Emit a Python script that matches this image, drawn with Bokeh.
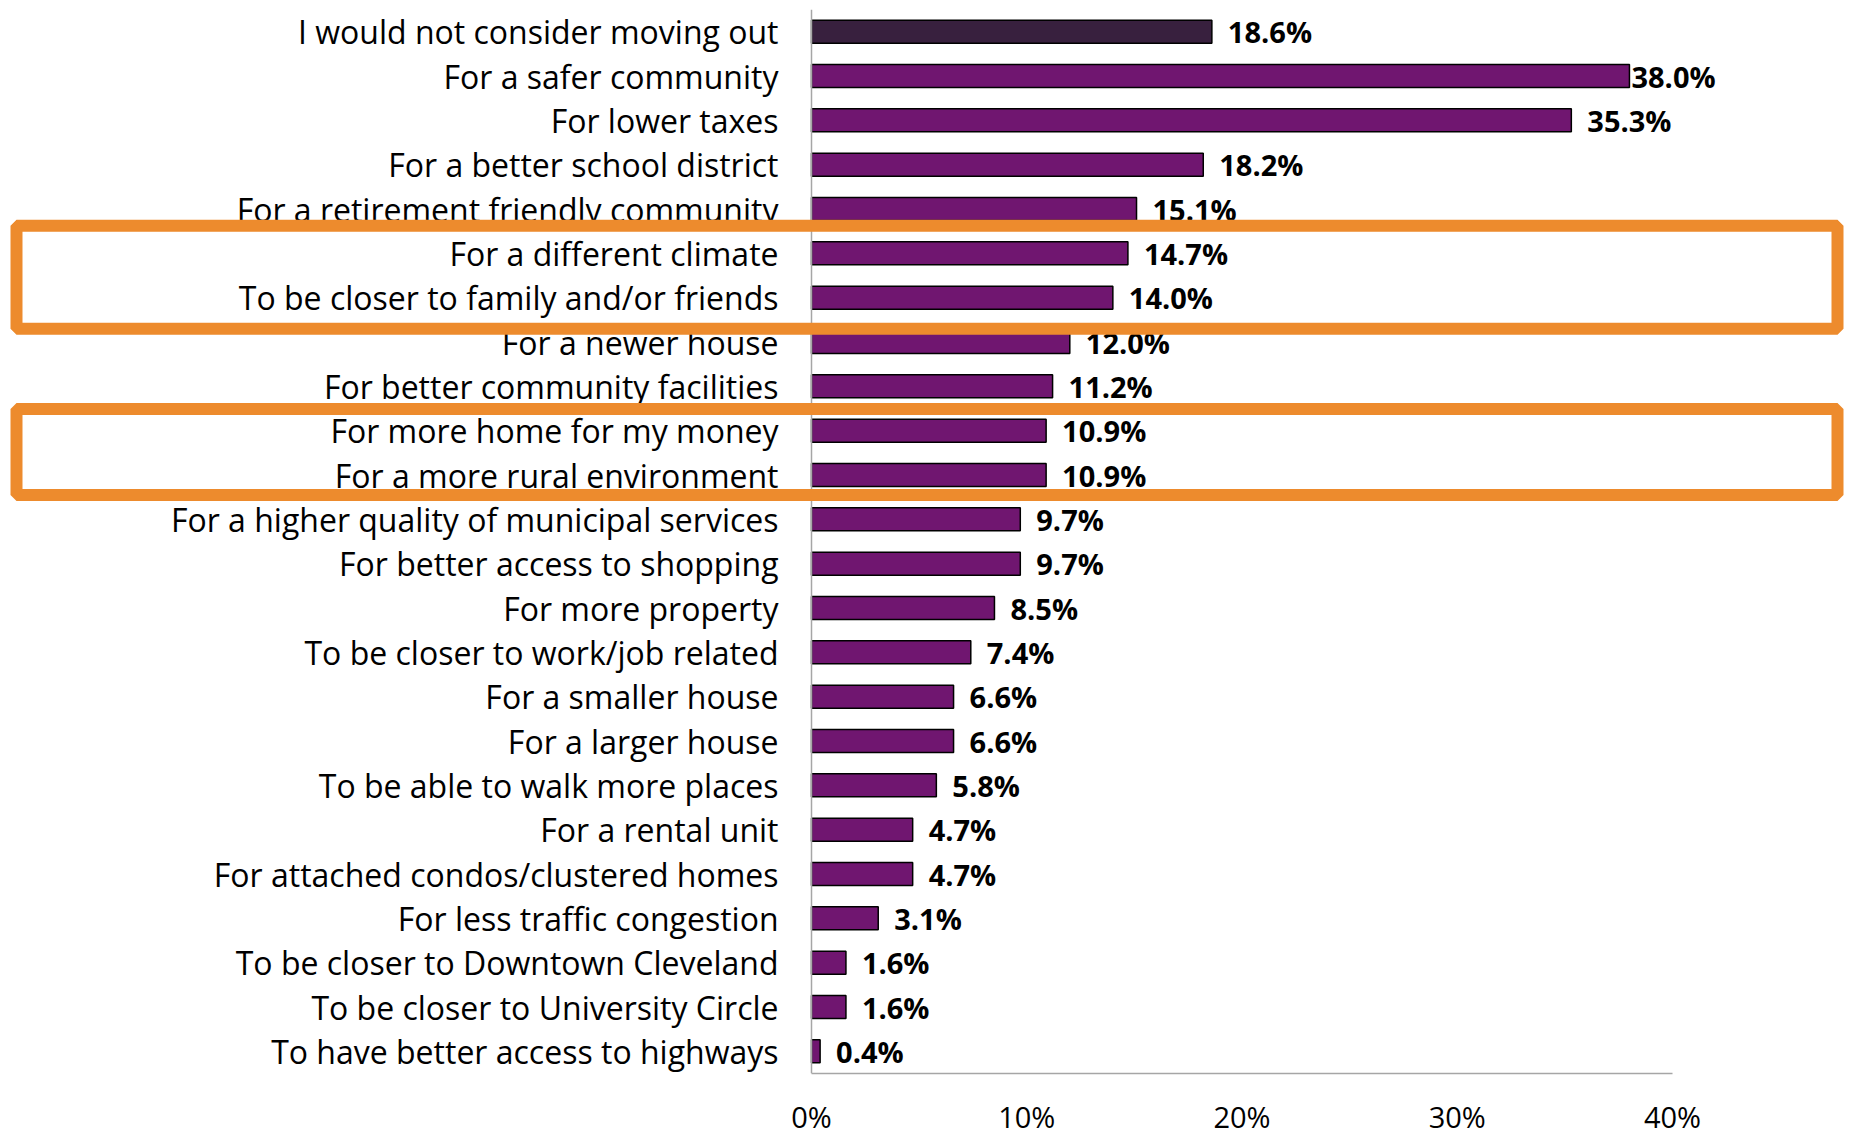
from bokeh.plotting import figure
from bokeh.models import Range1d, FixedTicker, BoxAnnotation, ColumnDataSource, Span
from bokeh.core.properties import value
from bokeh.embed import file_html
from bokeh.resources import INLINE

categories = [
    "I would not consider moving out",
    "For a safer community",
    "For lower taxes",
    "For a better school district",
    "For a retirement friendly community",
    "For a different climate",
    "To be closer to family and/or friends",
    "For a newer house",
    "For better community facilities",
    "For more home for my money",
    "For a more rural environment",
    "For a higher quality of municipal services",
    "For better access to shopping",
    "For more property",
    "To be closer to work/job related",
    "For a smaller house",
    "For a larger house",
    "To be able to walk more places",
    "For a rental unit",
    "For attached condos/clustered homes",
    "For less traffic congestion",
    "To be closer to Downtown Cleveland",
    "To be closer to University Circle",
    "To have better access to highways",
]
values = [18.6, 38.0, 35.3, 18.2, 15.1, 14.7, 14.0, 12.0, 11.2, 10.9, 10.9,
          9.7, 9.7, 8.5, 7.4, 6.6, 6.6, 5.8, 4.7, 4.7, 3.1, 1.6, 1.6, 0.4]
x_ticks = [0, 10, 20, 30, 40]
x_tick_labels = ["0%", "10%", "20%", "30%", "40%"]
highlight_groups = [
    ["For a different climate", "To be closer to family and/or friends"],
    ["For more home for my money", "For a more rural environment"],
]

DARK = "#38203E"
PURPLE = "#701670"
ORANGE = "#ED8B2D"
AXIS_GRAY = "#A6A6A6"
FONT = "Open Sans"

n = len(categories)
idx = list(range(n))
colors = [DARK] + [PURPLE] * (n - 1)
labels = [f"{v:.1f}%" for v in values]
zeros = [0] * n
vmax = max(values)
# the longest bar's label hugs the bar end (as in the original)
offsets = [2 if v == vmax else 16 for v in values]

src = ColumnDataSource(dict(y=idx, v=values, color=colors, lab=labels,
                            cat=categories, zero=zeros, off=offsets))

W, H = 1845, 1138
ZERO_PX = 811
px_per_unit = (1672 - ZERO_PX) / 40.0
x_start = -ZERO_PX / px_per_unit
x_end = (W - ZERO_PX) / px_per_unit

p = figure(width=W, height=H,
           x_range=Range1d(x_start, x_end), y_range=Range1d(n - 0.5, -0.5),
           output_backend="svg", toolbar_location=None, y_axis_location=None,
           min_border_left=0, min_border_right=0,
           min_border_top=9, min_border_bottom=62)
p.outline_line_color = None
p.xgrid.visible = False
p.ygrid.visible = False
p.background_fill_color = "white"
p.border_fill_color = "white"

p.hbar(y="y", left=0, right="v", height=0.52, fill_color="color",
       line_color="black", line_width=1.5, source=src)

# value labels
p.text(x="v", y="y", text="lab", x_offset="off", text_baseline="middle",
       text_align="left", text_font=value(FONT), text_font_style="bold",
       text_font_size="29px", text_color="black", source=src)

# category labels
p.text(x="zero", y="y", text="cat", x_offset=-33, text_baseline="middle",
       text_align="right", text_font=value(FONT),
       text_font_size="32px", text_color="black", source=src)

# vertical axis line
p.add_layout(Span(location=0, dimension="height", line_color=AXIS_GRAY, line_width=1.5))

# x axis
xa = p.xaxis[0]
xa.ticker = FixedTicker(ticks=x_ticks)
xa.major_label_overrides = {t: l for t, l in zip(x_ticks, x_tick_labels)}
xa.bounds = (x_ticks[0], x_ticks[-1])
xa.major_tick_in = 0
xa.major_tick_out = 0
xa.minor_tick_in = 0
xa.minor_tick_out = 0
xa.axis_line_color = AXIS_GRAY
xa.axis_line_width = 1.5
xa.major_label_standoff = 23
xa.major_label_text_font = FONT
xa.major_label_text_font_size = "29px"
xa.major_label_text_color = "black"

# highlight boxes
pads = [(0.62, 0.70), (0.49, 0.45)]
for grp, (pt, pb) in zip(highlight_groups, pads):
    ii = [categories.index(g) for g in grp]
    box = BoxAnnotation(top=min(ii) - pt, bottom=max(ii) + pb,
                        left=16, right=1837, left_units="screen", right_units="screen",
                        fill_alpha=0, fill_color=None,
                        line_color=ORANGE, line_alpha=1.0, line_width=12)
    p.add_layout(box)

open("out.html", "w").write(file_html(p, INLINE))
